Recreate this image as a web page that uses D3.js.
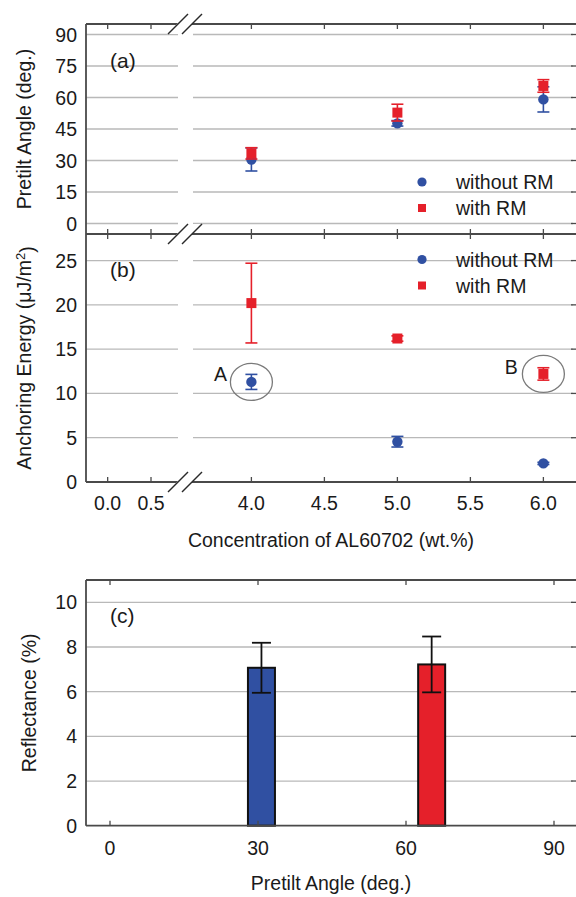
<!DOCTYPE html>
<html lang="en">
  <head>
    <meta charset="UTF-8" />
    <title>Pretilt, anchoring energy and reflectance</title>
    <script src="https://cdn.jsdelivr.net/npm/d3@7"></script>
    <style>
      * {
        margin: 0;
        padding: 0;
      }
      body {
        background: #fff;
      }
      text {
        font-family: "Liberation Sans", Arial, sans-serif;
        fill: #1a1a1a;
        font-size: 19.5px;
      }
    </style>
  </head>
  <body>
    <svg id="chart" width="576" height="897"></svg>
    <script>
      // ---- data ----
      const concLeftTicks = [0.0, 0.5];
      const concRightTicks = [4.0, 4.5, 5.0, 5.5, 6.0];
      const sampleConc = [4.0, 5.0, 6.0];

      // (a) pretilt angle (deg.)
      const pretiltWithout = [30.5, 47.7, 59.1];
      const pretiltWithoutErr = [5.5, 1.3, 6.0];
      const pretiltWith = [33.4, 52.8, 65.5];
      const pretiltWithErr = [2.7, 4.0, 3.0];
      const pretiltTicks = [0, 15, 30, 45, 60, 75, 90];

      // (b) anchoring energy (uJ/m2)
      const anchorWithout = [11.3, 4.55, 2.1];
      const anchorWithoutErr = [0.85, 0.6, 0.12];
      const anchorWith = [20.2, 16.2, 12.2];
      const anchorWithErr = [4.5, 0.3, 0.7];
      const anchorTicks = [0, 5, 10, 15, 20, 25];

      // (c) reflectance (%)
      const barAngle = [30.7, 65.2];
      const barRefl = [7.07, 7.22];
      const barErr = [1.12, 1.25];
      const reflTicks = [0, 2, 4, 6, 8, 10];
      const angleTicks = [0, 30, 60, 90];

      const series = ["without RM", "with RM"];
      const blue = "#3050a2";
      const red = "#e5202a";
      const frameCol = "#4a4a4a";
      const gridCol = "#b9b9b9";

      const svg = d3.select("#chart");

      // frame of the two upper panels
      const L = 86, R = 576;
      const topA = 24, midAB = 234, botB = 482;
      const gapL = 178, gapR = 193;

      // broken x axis: two linear pieces
      const xLeft = d3.scaleLinear().domain([-0.25, 0.8]).range([L, L + 91]);
      const xRight = d3.scaleLinear().domain([3.6, 6.22]).range([gapR, 575.5]);

      const yA = d3.scaleLinear().domain([-5, 95]).range([midAB, topA]);
      const yB = d3.scaleLinear().domain([0, 28]).range([botB, midAB]);

      function gridBroken(scale, ticks) {
        const g = svg.append("g");
        g.selectAll(".gl")
          .data(ticks)
          .enter()
          .append("line")
          .attr("x1", L)
          .attr("x2", gapL)
          .attr("y1", (d) => scale(d))
          .attr("y2", (d) => scale(d));
        g.selectAll(".gr")
          .data(ticks)
          .enter()
          .append("line")
          .attr("x1", gapR)
          .attr("x2", R - 3)
          .attr("y1", (d) => scale(d))
          .attr("y2", (d) => scale(d));
        g.selectAll("line").attr("stroke", gridCol).attr("stroke-width", 1.3);
        // right side ticks
        svg
          .append("g")
          .selectAll("line")
          .data(ticks)
          .enter()
          .append("line")
          .attr("x1", R - 5)
          .attr("x2", R)
          .attr("y1", (d) => scale(d))
          .attr("y2", (d) => scale(d))
          .attr("stroke", frameCol)
          .attr("stroke-width", 1.3);
      }

      function yLabels(scale, ticks) {
        svg
          .append("g")
          .selectAll("text")
          .data(ticks)
          .enter()
          .append("text")
          .attr("x", 77)
          .attr("y", (d) => scale(d))
          .attr("dy", "0.36em")
          .attr("text-anchor", "end")
          .text((d) => d);
      }

      function xTicks(y0, y1) {
        const xs = concLeftTicks.map(xLeft).concat(concRightTicks.map(xRight));
        svg
          .append("g")
          .selectAll("line")
          .data(xs)
          .enter()
          .append("line")
          .attr("x1", (d) => d)
          .attr("x2", (d) => d)
          .attr("y1", y0)
          .attr("y2", y1)
          .attr("stroke", frameCol)
          .attr("stroke-width", 1.3);
      }

      gridBroken(yA, pretiltTicks.filter((d) => d >= 0));
      gridBroken(yB, anchorTicks.filter((d) => d > 0));

      // frame lines
      [topA, midAB, botB].forEach((y) => {
        svg
          .append("line")
          .attr("x1", L)
          .attr("x2", R)
          .attr("y1", y)
          .attr("y2", y)
          .attr("stroke", frameCol)
          .attr("stroke-width", 1.8);
      });
      svg
        .append("line")
        .attr("x1", L)
        .attr("x2", L)
        .attr("y1", topA)
        .attr("y2", botB)
        .attr("stroke", frameCol)
        .attr("stroke-width", 1.8);

      xTicks(topA, topA + 5);
      xTicks(midAB - 5, midAB + 5);
      xTicks(botB - 5, botB);

      // break marks
      [topA, midAB, botB].forEach((y) => {
        const g = svg.append("g");
        g.append("polygon")
          .attr("points", [
            [167, y + 10],
            [187, y - 10],
            [202, y - 10],
            [182, y + 10],
          ].join(" "))
          .attr("fill", "#fff");
        [[168, 188], [182, 202]].forEach(([a, b]) => {
          g.append("line")
            .attr("x1", a)
            .attr("y1", y + 10)
            .attr("x2", b)
            .attr("y2", y - 10)
            .attr("stroke", "#2a2a2a")
            .attr("stroke-width", 1.5);
        });
      });

      yLabels(yA, pretiltTicks);
      yLabels(yB, anchorTicks);

      // x tick labels of (b)
      const xLab = concLeftTicks
        .map((d) => ({ v: d, x: xLeft(d) }))
        .concat(concRightTicks.map((d) => ({ v: d, x: xRight(d) })));
      svg
        .append("g")
        .selectAll("text")
        .data(xLab)
        .enter()
        .append("text")
        .attr("x", (d) => d.x)
        .attr("y", 510)
        .attr("text-anchor", "middle")
        .text((d) => d3.format(".1f")(d.v));

      // markers with error bars
      function points(yScale, vals, errs, color, shape) {
        const g = svg.append("g");
        const data = sampleConc.map((c, i) => ({ c, v: vals[i], e: errs[i] }));
        data.forEach((d) => {
          const x = xRight(d.c);
          const y1 = yScale(d.v - d.e);
          const y2 = yScale(d.v + d.e);
          g.append("line").attr("x1", x).attr("x2", x).attr("y1", y1).attr("y2", y2);
          g.append("line").attr("x1", x - 6).attr("x2", x + 6).attr("y1", y1).attr("y2", y1);
          g.append("line").attr("x1", x - 6).attr("x2", x + 6).attr("y1", y2).attr("y2", y2);
        });
        g.selectAll("line").attr("stroke", color).attr("stroke-width", 1.6);
        if (shape === "circle") {
          g.selectAll("circle")
            .data(data)
            .enter()
            .append("circle")
            .attr("cx", (d) => xRight(d.c))
            .attr("cy", (d) => yScale(d.v))
            .attr("r", 5.2)
            .attr("fill", color);
        } else {
          g.selectAll("rect")
            .data(data)
            .enter()
            .append("rect")
            .attr("x", (d) => xRight(d.c) - 5)
            .attr("y", (d) => yScale(d.v) - 5)
            .attr("width", 10)
            .attr("height", 10)
            .attr("fill", color);
        }
      }

      points(yA, pretiltWithout, pretiltWithoutErr, blue, "circle");
      points(yA, pretiltWith, pretiltWithErr, red, "square");
      points(yB, anchorWithout, anchorWithoutErr, blue, "circle");
      points(yB, anchorWith, anchorWithErr, red, "square");

      // legends
      function legend(y0) {
        const g = svg.append("g");
        series.forEach((s, i) => {
          const cy = y0 + i * 26;
          if (i === 0) {
            g.append("circle").attr("cx", 422).attr("cy", cy).attr("r", 4.6).attr("fill", blue);
          } else {
            g.append("rect").attr("x", 418).attr("y", cy - 4).attr("width", 8).attr("height", 8).attr("fill", red);
          }
          g.append("text")
            .attr("x", 456)
            .attr("y", cy + 7)
            .text(s);
        });
      }
      legend(182);
      legend(259.5);

      // ellipses A and B
      const marks = [
        { label: "A", c: sampleConc[0], v: anchorWithout[0], dx: -31, dy: -8 },
        { label: "B", c: sampleConc[2], v: anchorWith[2], dx: -32, dy: -7 },
      ];
      marks.forEach((m) => {
        const cx = xRight(m.c);
        const cy = yB(m.v);
        svg
          .append("ellipse")
          .attr("cx", cx)
          .attr("cy", cy)
          .attr("rx", 21)
          .attr("ry", 18.5)
          .attr("fill", "none")
          .attr("stroke", "#7a7a7a")
          .attr("stroke-width", 1.3);
        svg
          .append("text")
          .attr("x", cx + m.dx)
          .attr("y", cy + m.dy)
          .attr("dy", "0.36em")
          .attr("text-anchor", "middle")
          .text(m.label);
      });

      // panel letters
      [["(a)", 68], ["(b)", 277], ["(c)", 623]].forEach(([t, y]) => {
        svg.append("text").attr("x", 110).attr("y", y).style("font-size", "21px").text(t);
      });

      // axis titles of the upper panels
      svg
        .append("text")
        .attr("transform", `translate(24,${(topA + midAB) / 2}) rotate(-90)`)
        .attr("text-anchor", "middle")
        .attr("dy", "0.36em")
        .text("Pretilt Angle (deg.)");
      const tB = svg
        .append("text")
        .attr("transform", `translate(24,${(midAB + botB) / 2}) rotate(-90)`)
        .attr("text-anchor", "middle")
        .attr("dy", "0.36em");
      tB.append("tspan").text("Anchoring Energy (\u03bcJ/m");
      tB.append("tspan").attr("dy", "-0.45em").style("font-size", "13px").text("2");
      tB.append("tspan").attr("dy", "0.45em").text(")");

      svg
        .append("text")
        .attr("x", 331)
        .attr("y", 547)
        .attr("text-anchor", "middle")
        .text("Concentration of AL60702 (wt.%)");

      // ---- panel (c) ----
      const topC = 580, botC = 825.7;
      const xC = d3.scaleLinear().domain([0, 90]).range([110, 554]);
      const yC = d3.scaleLinear().domain([0, 11]).range([botC, topC]);

      svg
        .append("g")
        .selectAll("line")
        .data(reflTicks.filter((d) => d > 0))
        .enter()
        .append("line")
        .attr("x1", L)
        .attr("x2", R - 3)
        .attr("y1", (d) => yC(d))
        .attr("y2", (d) => yC(d))
        .attr("stroke", gridCol)
        .attr("stroke-width", 1.3);
      svg
        .append("g")
        .selectAll("line")
        .data(reflTicks.filter((d) => d > 0))
        .enter()
        .append("line")
        .attr("x1", R - 5)
        .attr("x2", R)
        .attr("y1", (d) => yC(d))
        .attr("y2", (d) => yC(d))
        .attr("stroke", frameCol)
        .attr("stroke-width", 1.3);

      // bars
      const barColors = [blue, red];
      svg
        .append("g")
        .selectAll("rect")
        .data(barAngle)
        .enter()
        .append("rect")
        .attr("x", (d) => xC(d) - 13.5)
        .attr("width", 27)
        .attr("y", (d, i) => yC(barRefl[i]))
        .attr("height", (d, i) => yC(0) - yC(barRefl[i]))
        .attr("fill", (d, i) => barColors[i])
        .attr("stroke", "#111")
        .attr("stroke-width", 2);

      const eg = svg.append("g");
      barAngle.forEach((a, i) => {
        const x = xC(a);
        const y1 = yC(barRefl[i] - barErr[i]);
        const y2 = yC(barRefl[i] + barErr[i]);
        eg.append("line").attr("x1", x).attr("x2", x).attr("y1", y1).attr("y2", y2);
        eg.append("line").attr("x1", x - 9.5).attr("x2", x + 9.5).attr("y1", y1).attr("y2", y1);
        eg.append("line").attr("x1", x - 9.5).attr("x2", x + 9.5).attr("y1", y2).attr("y2", y2);
      });
      eg.selectAll("line").attr("stroke", "#111").attr("stroke-width", 1.8);

      // frame (c)
      [topC, botC].forEach((y) => {
        svg
          .append("line")
          .attr("x1", L)
          .attr("x2", R)
          .attr("y1", y)
          .attr("y2", y)
          .attr("stroke", frameCol)
          .attr("stroke-width", 1.8);
      });
      svg
        .append("line")
        .attr("x1", L)
        .attr("x2", L)
        .attr("y1", topC)
        .attr("y2", botC)
        .attr("stroke", frameCol)
        .attr("stroke-width", 1.8);

      [[topC, topC + 5], [botC - 5, botC]].forEach(([a, b]) => {
        svg
          .append("g")
          .selectAll("line")
          .data(angleTicks)
          .enter()
          .append("line")
          .attr("x1", (d) => xC(d))
          .attr("x2", (d) => xC(d))
          .attr("y1", a)
          .attr("y2", b)
          .attr("stroke", frameCol)
          .attr("stroke-width", 1.3);
      });

      yLabels(yC, reflTicks);
      svg
        .append("g")
        .selectAll("text")
        .data(angleTicks)
        .enter()
        .append("text")
        .attr("x", (d) => xC(d))
        .attr("y", 855)
        .attr("text-anchor", "middle")
        .text((d) => d);

      svg
        .append("text")
        .attr("transform", `translate(29,${(topC + botC) / 2}) rotate(-90)`)
        .attr("text-anchor", "middle")
        .attr("dy", "0.36em")
        .text("Reflectance (%)");
      svg
        .append("text")
        .attr("x", 331)
        .attr("y", 890)
        .attr("text-anchor", "middle")
        .text("Pretilt Angle (deg.)");
    </script>
  </body>
</html>
